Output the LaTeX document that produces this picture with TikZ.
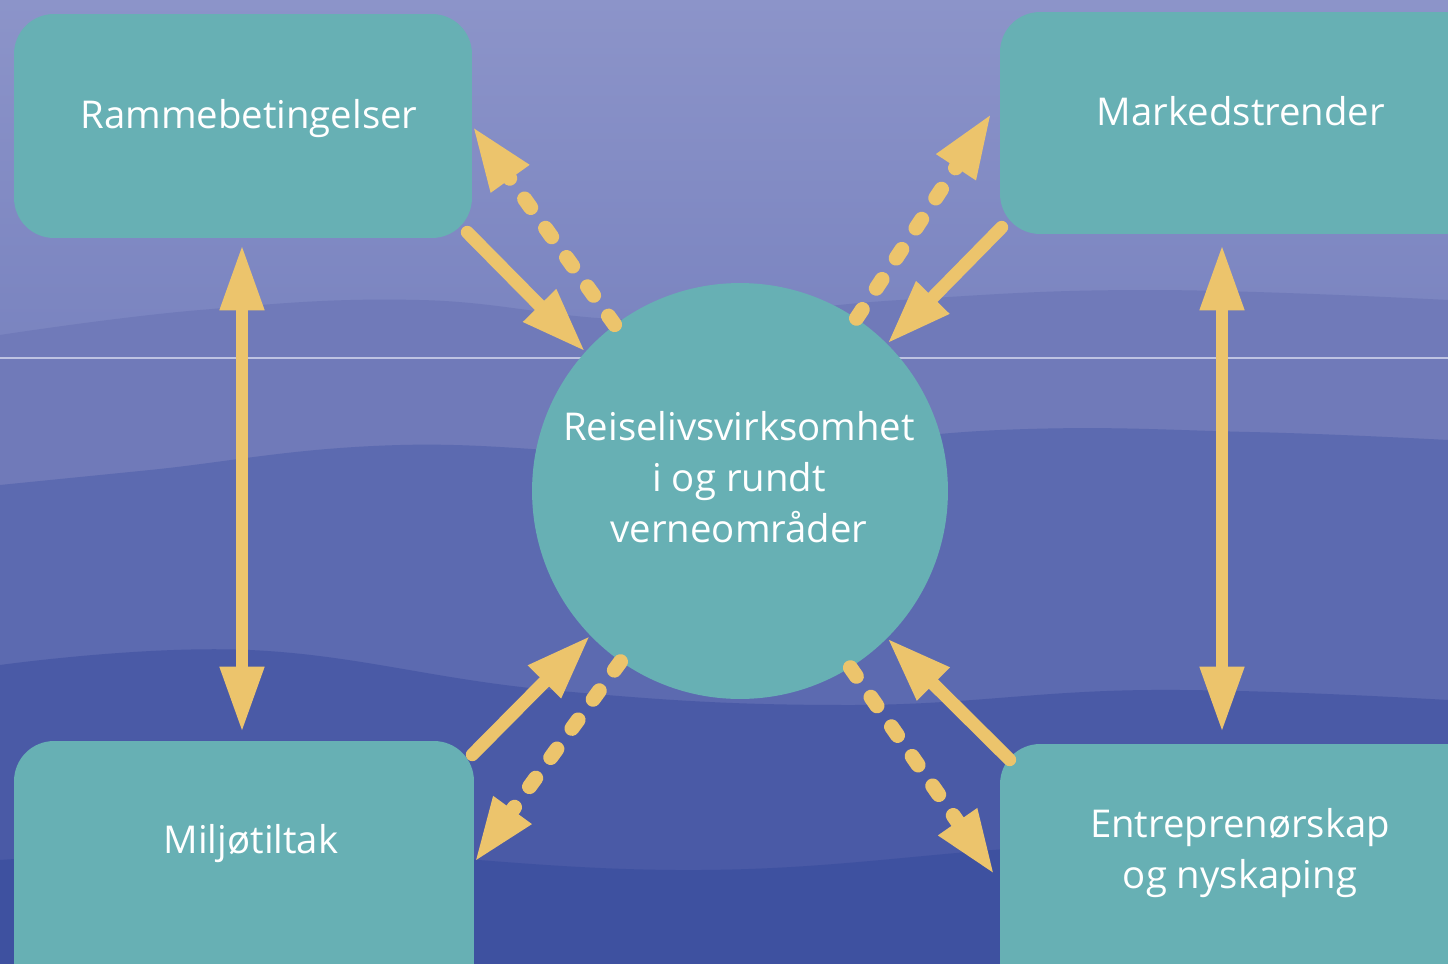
\documentclass[tikz,border=0pt]{standalone}
\usepackage{fontspec}
\setmainfont{Open Sans}
\usetikzlibrary{arrows.meta}
\definecolor{boxc}{RGB}{103,176,180}
\definecolor{arrowc}{RGB}{236,196,108}
\definecolor{skyA}{RGB}{140,148,201}
\definecolor{skyB}{RGB}{122,132,192}
\definecolor{bandB}{RGB}{112,122,185}
\definecolor{bandC}{RGB}{92,106,176}
\definecolor{bandD}{RGB}{74,90,166}
\definecolor{bandE}{RGB}{62,81,160}
\definecolor{hline}{RGB}{190,195,226}
\tikzset{
  box/.style={rectangle, rounded corners=0.8cm, fill=boxc, inner sep=0pt},
  lbl/.style={text=white, font=\fontsize{21.8}{29}\selectfont, inner sep=0pt, align=center},
  sarrow/.style={draw=arrowc, line width=7.4pt, line cap=round, -{Triangle[length=1.3cm,width=0.86cm]}},
  darrow/.style={draw=arrowc, line width=8.5pt, line cap=round, dash pattern=on 6pt off 14.5pt, -{Triangle[length=1.3cm,width=0.86cm]}},
  varrow/.style={draw=arrowc, line width=6.3pt, {Triangle[length=1.3cm,width=0.84cm]}-{Triangle[length=1.3cm,width=0.84cm]}},
}
\begin{document}
\begin{tikzpicture}[x=0.02cm,y=-0.02cm]
\useasboundingbox (0,0) rectangle (1448,964);
\clip (0,0) rectangle (1448,964);
% background sky and mountain bands
\shade[top color=skyA, bottom color=skyB] (0,0) rectangle (1448,340);
\fill[skyB] (0,330) rectangle (1448,964);
\fill[bandB] plot[smooth, tension=0.7] coordinates {(0,335) (200,310) (420,300) (650,320) (900,300) (1150,290) (1448,300)} -- (1448,964) -- (0,964) -- cycle;
\fill[bandC] plot[smooth, tension=0.7] coordinates {(0,485) (150,470) (400,445) (700,455) (1000,430) (1250,432) (1448,440)} -- (1448,964) -- (0,964) -- cycle;
\fill[bandD] plot[smooth, tension=0.7] coordinates {(0,665) (250,650) (550,690) (850,705) (1150,690) (1448,700)} -- (1448,964) -- (0,964) -- cycle;
\fill[bandE] plot[smooth, tension=0.7] coordinates {(0,860) (300,850) (700,870) (1100,845) (1448,860)} -- (1448,964) -- (0,964) -- cycle;
\draw[hline, line width=0.6pt] (0,358) -- (1448,358);
% boxes and circle
\node[box, minimum width=9.16cm, minimum height=4.48cm] (tl) at (243,126) {};
\node[box, minimum width=9.8cm, minimum height=4.44cm] (tr) at (1245,123) {};
\node[box, minimum width=9.2cm, minimum height=5.18cm] (bl) at (244,870.5) {};
\node[box, minimum width=9.8cm, minimum height=5.12cm] (br) at (1245,872) {};
\node[circle, fill=boxc, inner sep=0pt, minimum size=8.32cm] (c) at (740,491) {};
% labels
\node[lbl, anchor=base] (tlt) at (249,128) {Rammebetingelser};
\node[lbl, anchor=base] (trt) at (1241,125) {Markedstrender};
\node[lbl, anchor=base] (blt) at (251,853) {Miljøtiltak};
\node[lbl] (brt) at (1240,853) {Entreprenørskap\\og nyskaping};
\node[lbl] (ct) at (739,477) {Reiselivsvirksomhet\\i og rundt\\verneområder};
% arrows
\draw[sarrow] ([shift={(-5,-6)}]tl.south east) -- (c.138);
\draw[darrow] (c.127) -- (tl.east);
\draw[darrow] (c.56) -- ([shift={(-8,-10)}]tr.west);
\draw[sarrow] ([shift={(2,-7)}]tr.south west) -- (c.45);
\draw[sarrow] ([shift={(-2,14)}]bl.north east) -- (c.224);
\draw[darrow] (c.235) -- ([shift={(0,-8)}]bl.east);
\draw[sarrow] ([shift={(10,16)}]br.north west) -- (c.315);
\draw[darrow] (c.302) -- ([shift={(-5,3)}]br.west);
\draw[varrow] ([shift={(-1,7)}]tl.south) -- ([shift={(-2,-9)}]bl.north);
\draw[varrow] ([shift={(-23,11)}]tr.south) -- ([shift={(-23,-12)}]br.north);
\end{tikzpicture}
\end{document}
